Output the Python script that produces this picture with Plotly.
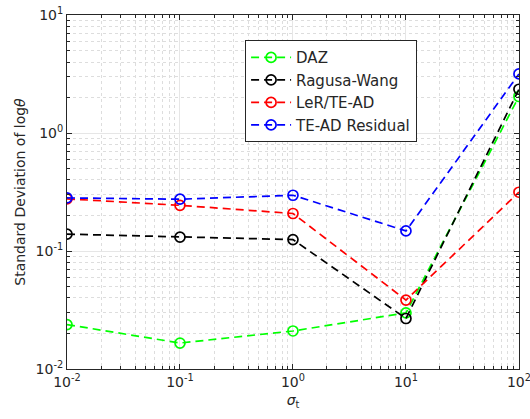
import plotly.graph_objects as go

sigma_t = [0.01, 0.1, 1, 10, 100]
daz = [0.0238, 0.0166, 0.0210, 0.0299, 2.04]
ragusa_wang = [0.139, 0.131, 0.125, 0.0268, 2.35]
ler_tead = [0.277, 0.244, 0.208, 0.0384, 0.315]
tead_resid = [0.282, 0.275, 0.297, 0.148, 3.17]

x_tickvals = [0.01, 0.1, 1, 10, 100]
x_ticktext = ["10<sup>-2</sup>", "10<sup>-1</sup>", "10<sup>0</sup>", "10<sup>1</sup>", "10<sup>2</sup>"]
y_tickvals = [0.01, 0.1, 1, 10]
y_ticktext = ["10<sup>-2</sup>", "10<sup>-1</sup>", "10<sup>0</sup>", "10<sup>1</sup>"]

x_minor = [k * 10.0 ** e for e in range(-2, 2) for k in range(2, 10)]
y_minor = [k * 10.0 ** e for e in range(-2, 1) for k in range(2, 10)]

series = [
    ("DAZ", daz, "#00ff00"),
    ("Ragusa-Wang", ragusa_wang, "#000000"),
    ("LeR/TE-AD", ler_tead, "#ff0000"),
    ("TE-AD Residual", tead_resid, "#0000ff"),
]

fig = go.Figure()
for name, vals, col in series:
    fig.add_trace(go.Scatter(
        x=sigma_t, y=vals, name=name, mode="lines+markers",
        line=dict(color=col, width=1.7, dash="8px,5px"),
        marker=dict(symbol="circle-open", size=10, color=col, line=dict(width=1.7, color=col)),
    ))

txt = "#262626"
font = dict(family="DejaVu Sans, sans-serif", size=14, color=txt)
axis_common = dict(
    type="log", showline=True, linecolor=txt, linewidth=1, mirror="ticks",
    ticks="inside", ticklen=5, tickcolor=txt, tickmode="array", automargin=False,
    ticklabeloverflow="allow",
    showgrid=True, gridcolor="#e6e6e6", gridwidth=1, zeroline=False,
    tickfont=dict(size=14, color=txt),
)
fig.update_layout(
    width=530, height=419,
    margin=dict(l=67, r=11, t=15, b=50),
    paper_bgcolor="white", plot_bgcolor="white",
    font=font,
    showlegend=True,
    legend=dict(x=0.394, y=0.929, xanchor="left", yanchor="top",
                bordercolor=txt, borderwidth=1, bgcolor="white",
                font=dict(size=15, color=txt), tracegroupgap=0, itemwidth=40),
    xaxis=dict(axis_common, range=[-2, 2.0005], tickvals=x_tickvals, ticktext=x_ticktext,
               minor=dict(tickmode="array", tickvals=x_minor, showgrid=True, gridcolor="#dddddd",
                          griddash="dot", ticks="inside", ticklen=3, tickcolor=txt),
               title=dict(text="<i>σ</i><sub>t</sub>", font=dict(size=14), standoff=6)),
    yaxis=dict(axis_common, range=[-2, 1.0005], tickvals=y_tickvals, ticktext=y_ticktext,
               minor=dict(tickmode="array", tickvals=y_minor, showgrid=True, gridcolor="#dddddd",
                          griddash="dot", ticks="inside", ticklen=3, tickcolor=txt),
               title=dict(text="Standard Deviation of log<i>θ</i>", font=dict(size=14), standoff=6)),
)

fig.write_html("out.html")
